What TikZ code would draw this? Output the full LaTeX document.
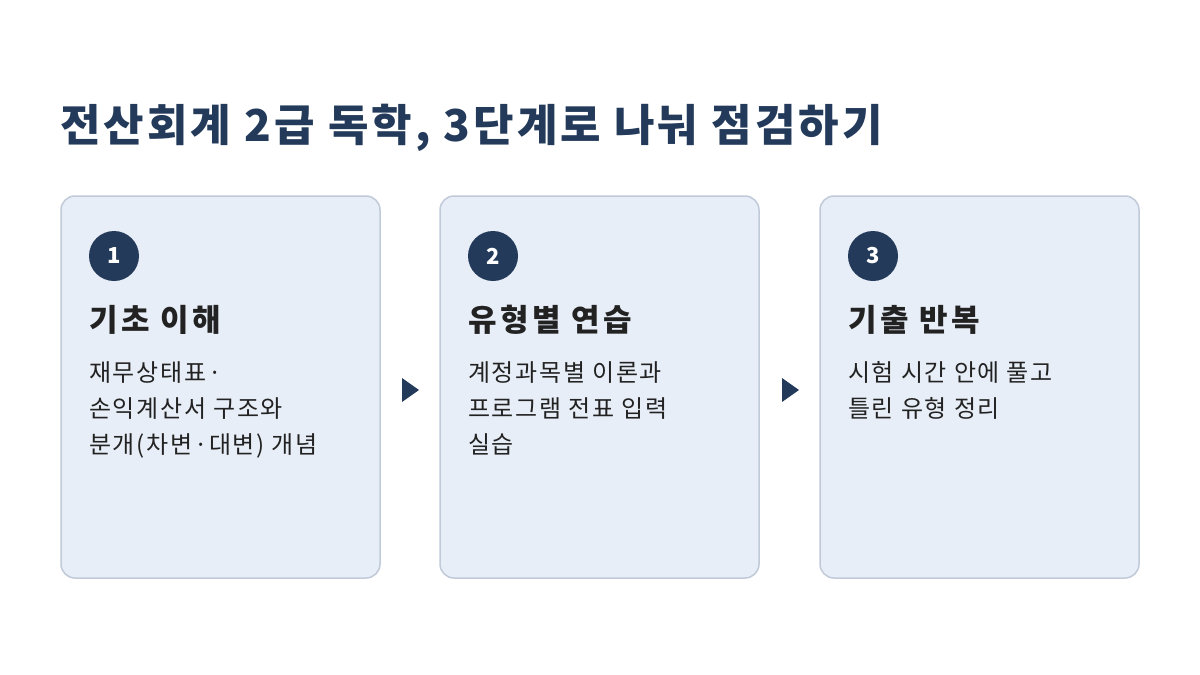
\documentclass[tikz,border=0pt]{standalone}
\usepackage{fontspec}
\setmainfont{Noto Sans CJK KR}
\begin{document}
\begin{tikzpicture}[x=1pt,y=-1pt,
  card/.style={draw=cardline,fill=cardfill,line width=1.5pt,rounded corners=14pt},
  num/.style={circle,fill=navy,minimum size=50pt,inner sep=0pt,text=white,font=\fontsize{22}{22}\selectfont\bfseries},
  head/.style={anchor=west,text=ink,font=\fontsize{31}{31}\selectfont\bfseries\addfontfeature{LetterSpace=11},inner sep=0pt},
  body/.style={anchor=north west,text=ink,align=left,inner sep=0pt,font=\fontsize{24}{36}\selectfont\addfontfeature{LetterSpace=7}},
  tri/.style={fill=navy}]
\definecolor{navy}{HTML}{233A5A}
\definecolor{ink}{HTML}{222222}
\definecolor{cardfill}{HTML}{E8EEF7}
\definecolor{cardline}{HTML}{C0CAD9}
\useasboundingbox[fill=white] (0,0) rectangle (1200,675);
\node[anchor=west,inner sep=0pt,text=navy,font=\fontsize{44}{44}\selectfont\bfseries\addfontfeature{LetterSpace=7}] (title) at (60,128) {전산회계 2급 독학, 3단계로 나눠 점검하기};
\foreach \x/\n/\h/\b [count=\i] in {61/1/기초 이해/{재무상태표·\\손익계산서 구조와\\분개(차변·대변) 개념},440/2/유형별 연습/{계정과목별 이론과\\프로그램 전표 입력\\실습},820/3/기출 반복/{시험 시간 안에 풀고\\틀린 유형 정리}}{
  \draw[card] (\x,196) rectangle ++(319,382);
  \node[num] (n\i) at (\x+53,256) {\n};
  \node[head] (h\i) at (\x+28,320) {\h};
  \node[body] (b\i) at (\x+28,361) {\b};
}
\coordinate (a1) at (402,390);
\coordinate (a2) at (782,390);
\foreach \a in {a1,a2}{\fill[tri] (\a) ++(0,-12) -- ++(17,12) -- ++(-17,12) -- cycle;}
\end{tikzpicture}
\end{document}
